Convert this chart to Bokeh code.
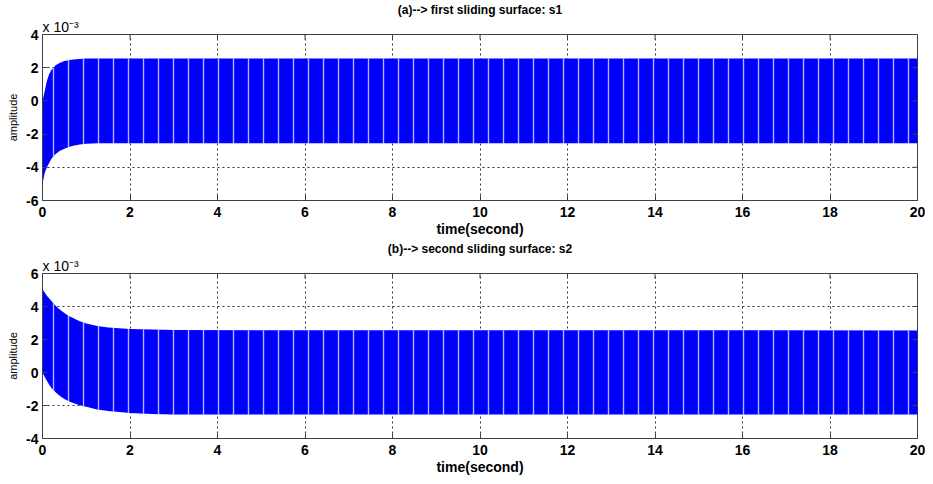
import numpy as np
from bokeh.plotting import figure
from bokeh.layouts import column
from bokeh.models import FixedTicker, Range1d, ColumnDataSource, Title
from bokeh.embed import file_html
from bokeh.resources import INLINE

# ---- data (amplitude in units of 1e-3) ----
time_s = [0, 0.05, 0.1, 0.15, 0.2, 0.3, 0.4, 0.5, 0.6, 0.7, 0.85, 1.0, 1.25, 1.5, 2.0, 2.5, 3.0, 20]
s1_upper = [0.0, 0.6, 1.2, 1.6, 1.85, 2.15, 2.3, 2.4, 2.45, 2.5, 2.52, 2.55, 2.55, 2.55, 2.55, 2.55, 2.55, 2.55]
s1_lower = [-5.0, -4.35, -4.0, -3.75, -3.5, -3.2, -3.0, -2.88, -2.78, -2.7, -2.62, -2.58, -2.55, -2.55, -2.55, -2.55, -2.55, -2.55]
s2_upper = [5.05, 4.85, 4.65, 4.5, 4.35, 4.05, 3.8, 3.6, 3.42, 3.3, 3.1, 2.97, 2.82, 2.72, 2.63, 2.6, 2.57, 2.55]
s2_lower = [0.0, -0.28, -0.5, -0.72, -0.92, -1.2, -1.42, -1.6, -1.74, -1.85, -1.98, -2.08, -2.24, -2.33, -2.46, -2.52, -2.55, -2.55]

x_ticks = [0, 2, 4, 6, 8, 10, 12, 14, 16, 18, 20]
x_tick_labels = ["0", "2", "4", "6", "8", "10", "12", "14", "16", "18", "20"]
y_ticks_a = [-6, -4, -2, 0, 2, 4]
y_tick_labels_a = ["-6", "-4", "-2", "0", "2", "4"]
y_ticks_b = [-4, -2, 0, 2, 4, 6]
y_tick_labels_b = ["-4", "-2", "0", "2", "4", "6"]

title_a = "(a)--> first sliding surface: s1"
title_b = "(b)--> second sliding surface: s2"
scale_text = "x 10\u207b\u00b3"

FONT = "Liberation Sans"
AX = "#404040"
BLUE = "#0000FF"


def make_panel(upper, lower, yt, ytl, ylim, title, height, top, bottom):
    p = figure(width=925, height=height, x_range=Range1d(0, 20), y_range=Range1d(*ylim),
               output_backend="svg", toolbar_location=None,
               min_border_left=42, min_border_right=8, min_border_top=top, min_border_bottom=bottom)
    p.outline_line_color = AX
    p.background_fill_color = "white"
    p.border_fill_color = "white"

    src = ColumnDataSource(dict(x=time_s, y1=lower, y2=upper))
    p.varea(x="x", y1="y1", y2="y2", source=src, fill_color=BLUE,
            hatch_pattern="vertical_line", hatch_color="white", hatch_alpha=0.7,
            hatch_scale=15, hatch_weight=1.4)

    for g in (p.xgrid, p.ygrid):
        g.grid_line_color = "#303030"
        g.grid_line_dash = "2 3"
        g.grid_line_width = 1
    p.xgrid.ticker = FixedTicker(ticks=x_ticks)
    p.ygrid.ticker = FixedTicker(ticks=yt)

    # inward ticks on the top and right edges of the box
    p.scatter(x=x_ticks, y=[ylim[1]] * len(x_ticks), marker="dash", angle=np.pi / 2,
              size=10, line_color=AX, line_width=1)
    p.scatter(x=[20] * len(yt), y=yt, marker="dash", size=10, line_color=AX, line_width=1)

    xa = p.xaxis[0]
    xa.ticker = FixedTicker(ticks=x_ticks)
    xa.major_label_overrides = {t: l for t, l in zip(x_ticks, x_tick_labels)}
    xa.axis_label = "time(second)"
    xa.axis_label_text_font = FONT
    xa.axis_label_text_font_style = "bold"
    xa.axis_label_text_font_size = "14px"
    xa.axis_label_standoff = 1
    xa.major_label_standoff = 6

    ya = p.yaxis[0]
    ya.ticker = FixedTicker(ticks=yt)
    ya.major_label_overrides = {t: l for t, l in zip(yt, ytl)}
    ya.axis_label = "amplitude"
    ya.axis_label_text_font = FONT
    ya.axis_label_text_font_style = "normal"
    ya.axis_label_text_font_size = "11px"
    ya.axis_label_standoff = 4
    ya.major_label_standoff = 4

    for a in (xa, ya):
        a.major_label_text_font = FONT
        a.major_label_text_font_style = "bold"
        a.major_label_text_font_size = "14px"
        a.major_label_text_color = "black"
        a.axis_label_text_color = "black"
        a.axis_line_color = AX
        a.major_tick_line_color = AX
        a.major_tick_in = 5
        a.major_tick_out = 0
        a.minor_tick_line_color = None

    p.add_layout(Title(text=scale_text, align="left", text_font=FONT, text_font_style="normal",
                       text_font_size="14px", text_color="black", standoff=0), "above")
    p.add_layout(Title(text=title, align="center", text_font=FONT, text_font_style="bold",
                       text_font_size="12px", text_color="black", standoff=0), "above")
    return p


pa = make_panel(s1_upper, s1_lower, y_ticks_a, y_tick_labels_a, (-6, 4), title_a, 239, 31, 39)
pb = make_panel(s2_upper, s2_lower, y_ticks_b, y_tick_labels_b, (-4, 6), title_b, 238, 30, 39)

layout = column(pa, pb, spacing=0)
open("out.html", "w").write(file_html(layout, INLINE))
